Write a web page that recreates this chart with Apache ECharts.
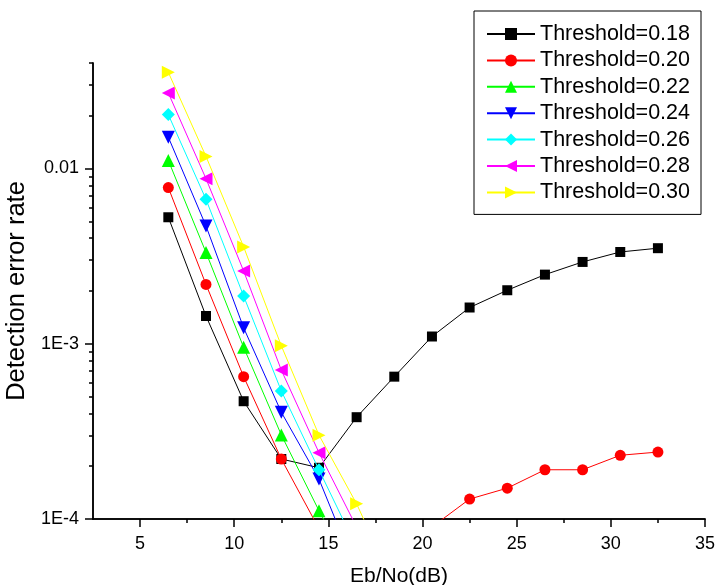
<!DOCTYPE html>
<html>
<head>
<meta charset="utf-8">
<script src="https://cdn.jsdelivr.net/npm/echarts@6/dist/echarts.min.js"></script>
<style>
html,body{margin:0;padding:0;background:#fff;}
#chart{width:716px;height:585px;}
</style>
</head>
<body>
<div id="chart"></div>
<script>
// ---- data ----
var xValues = [6.5, 8.5, 10.5, 12.5, 14.5, 16.5, 18.5, 20.5, 22.5, 24.5, 26.5, 28.5, 30.5, 32.5];
var seriesNames = ['Threshold=0.18', 'Threshold=0.20', 'Threshold=0.22', 'Threshold=0.24', 'Threshold=0.26', 'Threshold=0.28', 'Threshold=0.30'];
var th018 = [0.00527, 0.00144, 0.000470, 0.000220, 0.000196, 0.000381, 0.000649, 0.00110, 0.00161, 0.00202, 0.00248, 0.00293, 0.00334, 0.00351];
var th020 = [0.00778, 0.00218, 0.000649, 0.000220, 0.000088, 0.000050, 0.000060, 0.000090, 0.000130, 0.000150, 0.000191, 0.000191, 0.000231, 0.000241];
var th022 = [0.01112, 0.00332, 0.000954, 0.000302, 0.0001115, 0.000045];
var th024 = [0.0151, 0.00470, 0.001233, 0.000407, 0.000169, 0.000050];
var th026 = [0.0203, 0.00667, 0.00187, 0.000538, 0.000191, 0.0000686];
var th028 = [0.0270, 0.00875, 0.00260, 0.000708, 0.000239, 0.0000898];
var th030 = [0.0354, 0.01172, 0.00357, 0.000974, 0.000301, 0.000122, 0.0000417];
var xTickLabels = [5, 10, 15, 20, 25, 30, 35];
var xMinorTicks = [7.5, 12.5, 17.5, 22.5, 27.5, 32.5];
var yTickValues = [0.0001, 0.001, 0.01];
var yTickLabels = ['1E-4', '1E-3', '0.01'];
var yMinorTicks = [0.0002, 0.0003, 0.0004, 0.0005, 0.0006, 0.0007, 0.0008, 0.0009,
                   0.002, 0.003, 0.004, 0.005, 0.006, 0.007, 0.008, 0.009,
                   0.02, 0.03, 0.04];

// ---- styles ----
var allData = [th018, th020, th022, th024, th026, th028, th030];
var colors = ['#000000', '#ff0000', '#00ff00', '#0000ff', '#00ffff', '#ff00ff', '#ffff00'];
var symbols = ['rect', 'circle', 'triangle', 'triangle', 'diamond', 'triangle', 'triangle'];
var rotates = [0, 0, 0, 180, 0, 90, -90];
var sizes = [10, 11, 13, 13, 13, 13, 13];
var FONT = 'Arial, "Liberation Sans", sans-serif';

function pairs(ys) {
  var out = [];
  for (var i = 0; i < ys.length; i++) out.push([xValues[i], ys[i]]);
  return out;
}

var series = allData.map(function (ys, i) {
  return {
    name: seriesNames[i],
    type: 'line',
    data: pairs(ys),
    xAxisIndex: 0,
    yAxisIndex: 0,
    symbol: symbols[i],
    symbolSize: sizes[i],
    symbolRotate: rotates[i],
    showAllSymbol: true,
    clip: true,
    lineStyle: { color: colors[i], width: 1 },
    itemStyle: { color: colors[i], borderWidth: 0 },
    emphasis: { disabled: true },
    animation: false,
    z: 2 + i
  };
});
// empty helper series so the minor-tick axes are laid out
series.push({
  type: 'line', xAxisIndex: 1, yAxisIndex: 1, data: [], silent: true, symbol: 'none'
});

var axisLineStyle = { color: '#000', width: 1.5 };

var option = {
  animation: false,
  backgroundColor: '#fff',
  grid: { left: 93, right: 11, top: 63, bottom: 66, containLabel: false, outerBoundsMode: 'none' },
  legend: {
    orient: 'vertical',
    left: 474,
    top: 11,
    padding: [12, 11, 11, 12],
    itemGap: 4.4,
    itemWidth: 48,
    itemHeight: 15,
    borderColor: '#000',
    borderWidth: 1,
    backgroundColor: '#fff',
    textStyle: { color: '#000', fontSize: 21.5, fontFamily: FONT },
    data: seriesNames
  },
  xAxis: [{
    type: 'value',
    min: 2.5,
    max: 35,
    position: 'bottom',
    name: 'Eb/No(dB)',
    nameLocation: 'middle',
    nameGap: 47,
    nameTextStyle: { color: '#000', fontSize: 21, fontFamily: FONT },
    axisLine: { show: true, onZero: false, lineStyle: axisLineStyle },
    axisTick: { show: true, inside: false, length: 8, lineStyle: { color: '#000', width: 1.5 }, customValues: xTickLabels },
    axisLabel: { show: true, margin: 16, customValues: xTickLabels, color: '#000', fontSize: 18, fontFamily: FONT },
    splitLine: { show: false }
  }, {
    type: 'value',
    min: 2.5,
    max: 35,
    position: 'bottom',
    offset: 0,
    axisLine: { show: true, onZero: false, lineStyle: { color: '#000', width: 1.5 } },
    axisTick: { show: true, inside: false, length: 4, lineStyle: { color: '#000', width: 1.5 }, customValues: xMinorTicks },
    axisLabel: { show: false },
    splitLine: { show: false }
  }],
  yAxis: [{
    type: 'log',
    logBase: 10,
    min: 0.0001,
    max: 0.04,
    position: 'left',
    name: 'Detection error rate',
    nameLocation: 'middle',
    nameGap: 62,
    nameRotate: 90,
    nameTextStyle: { color: '#000', fontSize: 25.5, fontFamily: FONT },
    axisLine: { show: true, onZero: false, lineStyle: axisLineStyle },
    axisTick: { show: true, inside: false, length: 8, lineStyle: { color: '#000', width: 1.5 }, customValues: yTickValues },
    axisLabel: {
      show: true, margin: 14, customValues: yTickValues,
      color: '#000', fontSize: 18, fontFamily: FONT,
      formatter: function (v) {
        for (var i = 0; i < yTickValues.length; i++) {
          if (Math.abs(Math.log10(v) - Math.log10(yTickValues[i])) < 1e-6) return yTickLabels[i];
        }
        return '';
      }
    },
    splitLine: { show: false }
  }, {
    type: 'log',
    logBase: 10,
    min: 0.0001,
    max: 0.04,
    position: 'left',
    offset: 0,
    axisLine: { show: true, onZero: false, lineStyle: { color: '#000', width: 1.5 } },
    axisTick: { show: true, inside: false, length: 4, lineStyle: { color: '#000', width: 1.5 }, customValues: yMinorTicks },
    axisLabel: { show: false },
    splitLine: { show: false }
  }],
  series: series
};

var chart = echarts.init(document.getElementById('chart'), null, { renderer: 'canvas' });
chart.setOption(option);
</script>
</body>
</html>
